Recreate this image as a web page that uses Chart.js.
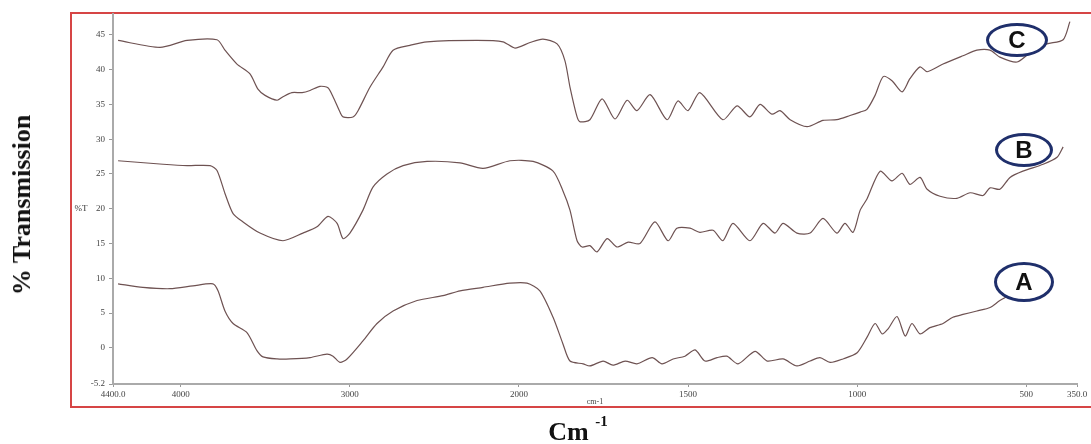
<!DOCTYPE html>
<html>
<head>
<meta charset="utf-8">
<script src="https://cdn.jsdelivr.net/npm/chart.js@4.4.1/dist/chart.umd.min.js"></script>
<style>
  html, body { margin: 0; padding: 0; background: #fff; overflow: hidden; }
  #wrap { position: relative; width: 1091px; height: 444px; }
  #frame { position: absolute; left: 70px; top: 12px; width: 1040px; height: 396px;
    box-sizing: border-box; border: 2px solid #d64545; }
  canvas { position: absolute; left: 0; top: 0; }
  .ytitle { position: absolute; left: 22px; top: 205px; transform: translate(-50%, -50%) rotate(-90deg);
    font: bold 26px "Liberation Serif", serif; white-space: nowrap; color: #111; }
  .xtitle { position: absolute; left: 578px; top: 432px; transform: translate(-50%, -50%);
    font: bold 26px "Liberation Serif", serif; white-space: nowrap; color: #111; }
  .xtitle sup { font-size: 15px; position: relative; top: -4px; }
  .tag { position: absolute; box-sizing: border-box; border: 3px solid #1f2f6b; border-radius: 50%;
    background: #fff; font: bold 24px "Liberation Sans", Arial, sans-serif; color: #111;
    display: flex; align-items: center; justify-content: center; }
</style>
</head>
<body>
<div id="wrap">
  <div id="frame"></div>
  <canvas id="ftirChart" width="1091" height="444"></canvas>
  <div class="ytitle">% Transmission</div>
  <div class="xtitle">Cm <sup>-1</sup></div>
  <div class="tag" style="left:986px; top:23px; width:62px; height:34px;">C</div>
  <div class="tag" style="left:995px; top:133px; width:58px; height:34px;">B</div>
  <div class="tag" style="left:994px; top:262px; width:60px; height:40px;">A</div>
</div>
<script>
// wavenumbers (cm-1) and %T
const waveC = [4370, 4122, 3962, 3785, 3738, 3667, 3590, 3543, 3501, 3430, 3395, 3342, 3282, 3235, 3176, 3129, 3099, 3058, 3040, 2981, 2951, 2880, 2803, 2744, 2644, 2543, 2248, 2094, 2023, 1967, 1929, 1887, 1864, 1849, 1828, 1819, 1790, 1754, 1716, 1680, 1651, 1612, 1562, 1530, 1500, 1465, 1397, 1355, 1317, 1287, 1252, 1228, 1198, 1148, 1101, 1060, 1021, 991, 971, 947, 923, 897, 867, 844, 814, 793, 746, 687, 646, 607, 578, 527, 480, 439, 391, 371];
const transC = [44.2, 43.2, 44.2, 44.3, 42.8, 40.8, 39.4, 37.2, 36.3, 35.6, 36.1, 36.7, 36.7, 37.0, 37.6, 37.4, 36.1, 33.9, 33.2, 33.2, 34.1, 37.5, 40.4, 42.8, 43.5, 44.0, 44.2, 44.0, 43.1, 43.9, 44.4, 43.7, 41.3, 37.5, 33.2, 32.5, 32.8, 35.8, 32.9, 35.6, 34.1, 36.4, 32.8, 35.5, 34.1, 36.7, 32.8, 34.8, 33.2, 35.0, 33.6, 34.1, 32.8, 31.8, 32.7, 32.8, 33.4, 33.9, 34.3, 36.3, 39.0, 38.4, 36.8, 38.7, 40.4, 39.7, 40.8, 42.0, 42.8, 42.8, 41.8, 41.1, 42.8, 43.7, 44.3, 46.9];

const waveB = [4370, 4104, 3962, 3826, 3785, 3738, 3690, 3631, 3531, 3395, 3277, 3194, 3129, 3075, 3040, 2999, 2922, 2863, 2780, 2685, 2543, 2348, 2212, 2053, 1958, 1899, 1870, 1849, 1828, 1813, 1790, 1769, 1739, 1710, 1677, 1642, 1598, 1559, 1533, 1494, 1465, 1426, 1397, 1367, 1317, 1278, 1243, 1219, 1178, 1139, 1101, 1060, 1036, 1012, 991, 971, 932, 897, 867, 844, 814, 793, 755, 705, 666, 628, 607, 578, 548, 510, 450, 409, 391];
const transB = [26.9, 26.4, 26.2, 26.2, 25.5, 22.2, 19.3, 18.1, 16.5, 15.4, 16.5, 17.4, 18.9, 17.9, 15.7, 16.5, 19.8, 23.1, 25.0, 26.2, 26.8, 26.6, 25.8, 26.9, 26.8, 25.4, 22.6, 19.8, 15.4, 14.5, 14.7, 13.8, 15.7, 14.5, 15.2, 15.0, 18.1, 15.4, 17.2, 17.2, 16.6, 16.9, 15.4, 17.9, 15.4, 17.9, 16.5, 17.9, 16.5, 16.5, 18.6, 16.5, 17.9, 16.6, 19.8, 21.4, 25.4, 24.0, 25.1, 23.5, 24.5, 22.8, 21.8, 21.5, 22.3, 21.9, 23.0, 22.8, 24.5, 25.4, 26.4, 27.4, 28.9];

const waveA = [4370, 4223, 4063, 3927, 3809, 3779, 3738, 3690, 3608, 3549, 3513, 3430, 3353, 3235, 3135, 3099, 3058, 3016, 2922, 2839, 2744, 2602, 2449, 2348, 2212, 2053, 1976, 1938, 1899, 1870, 1849, 1810, 1790, 1751, 1722, 1686, 1651, 1606, 1577, 1544, 1509, 1479, 1450, 1414, 1385, 1352, 1302, 1266, 1219, 1178, 1139, 1110, 1080, 1042, 1000, 971, 947, 926, 909, 882, 858, 838, 814, 785, 746, 717, 687, 646, 607, 578, 533];
const transA = [9.2, 8.7, 8.5, 8.9, 9.2, 8.2, 5.3, 3.5, 2.2, -0.4, -1.3, -1.6, -1.6, -1.4, -0.9, -1.2, -2.1, -1.6, 1.0, 3.5, 5.3, 6.8, 7.5, 8.2, 8.7, 9.3, 9.3, 8.2, 4.4, 0.6, -1.9, -2.3, -2.6, -1.9, -2.5, -1.9, -2.3, -1.4, -2.3, -1.6, -1.2, -0.3, -1.9, -1.4, -1.2, -2.3, -0.5, -1.9, -1.6, -2.6, -1.9, -1.4, -2.1, -1.6, -0.7, 1.5, 3.5, 2.0, 2.7, 4.5, 1.7, 3.5, 2.0, 2.9, 3.5, 4.4, 4.8, 5.3, 5.8, 6.8, 8.0];

const xTickValues = [4400, 4000, 3000, 2000, 1500, 1000, 500, 350];
const xTickLabels = ['4400.0', '4000', '3000', '2000', '1500', '1000', '500', '350.0'];
const yTickValues = [-5.2, 0, 5, 10, 15, 20, 25, 30, 35, 40, 45];

// the instrument doubles the scale below 2000 cm-1
function pos(w) {
  return w >= 2000 ? w : 2000 - 2 * (2000 - w);
}

function toPoints(waves, vals) {
  return waves.map((w, i) => ({ x: pos(w), y: vals[i] }));
}

const lineColor = '#6e5252';
const tickFont = { family: 'Liberation Serif', size: 9 };

const percentT = {
  id: 'percentT',
  afterDraw(chart) {
    const ctx = chart.ctx;
    const y = chart.scales.y.getPixelForValue(20);
    ctx.save();
    ctx.font = '9px "Liberation Serif"';
    ctx.fillStyle = '#333';
    ctx.textAlign = 'center';
    ctx.textBaseline = 'middle';
    ctx.fillText('%T', 81, y);
    ctx.restore();
  }
};

const ctx = document.getElementById('ftirChart').getContext('2d');
new Chart(ctx, {
  type: 'line',
  data: {
    datasets: [
      { label: 'A', data: toPoints(waveA, transA) },
      { label: 'B', data: toPoints(waveB, transB) },
      { label: 'C', data: toPoints(waveC, transC) }
    ].map(d => Object.assign(d, {
      borderColor: lineColor,
      borderWidth: 1.2,
      pointRadius: 0,
      tension: 0.25,
      fill: false
    }))
  },
  options: {
    responsive: false,
    animation: false,
    devicePixelRatio: 1,
    layout: { padding: { left: 70, top: 14, right: 14, bottom: 37 } },
    plugins: {
      legend: { display: false },
      tooltip: { enabled: false }
    },
    scales: {
      x: {
        type: 'linear',
        reverse: true,
        min: pos(350),
        max: pos(4400),
        afterBuildTicks: s => { s.ticks = xTickValues.map(w => ({ value: pos(w) })); },
        afterFit: s => { s.height = 23; },
        ticks: {
          autoSkip: false,
          maxRotation: 0,
          padding: 2,
          font: tickFont,
          color: '#444',
          callback: (v, i) => xTickLabels[i]
        },
        grid: { drawOnChartArea: false, drawTicks: true, tickLength: 3, color: '#999' },
        border: { display: true, color: '#aaa', width: 2 },
        title: { display: true, text: 'cm-1', padding: 0, font: { family: 'Liberation Serif', size: 8 }, color: '#444' }
      },
      y: {
        min: -5.2,
        max: 48,
        afterBuildTicks: s => { s.ticks = yTickValues.map(v => ({ value: v })); },
        afterFit: s => { s.width = 43; },
        ticks: {
          padding: 4,
          font: tickFont,
          color: '#444',
          callback: v => (v === -5.2 ? '-5.2' : String(v))
        },
        grid: { drawOnChartArea: false, drawTicks: true, tickLength: 4, color: '#999' },
        border: { display: true, color: '#aaa', width: 2 }
      }
    }
  },
  plugins: [percentT]
});
</script>
</body>
</html>
